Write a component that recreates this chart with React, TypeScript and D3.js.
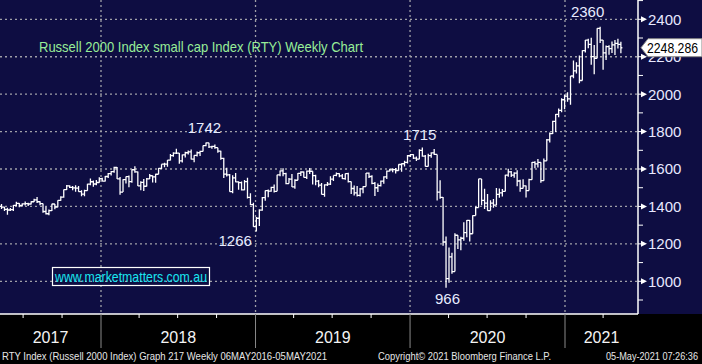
import React from "react";
import * as d3 from "d3";

const W = 702;
const H = 364;
const DAY = 86400000;

// weekly bars, week ending Fri 28 Apr 2017 onwards: [high, low, close]
const bars2017: [number, number, number][] = [
  [1421, 1395, 1400], [1413, 1387, 1396], [1399, 1376, 1384], [1393, 1356, 1381], [1392, 1376, 1383],
  [1408, 1376, 1406], [1425, 1403, 1416], [1418, 1396, 1406], [1417, 1400, 1414], [1426, 1405, 1415],
  [1420, 1402, 1413], [1428, 1410, 1425], [1441, 1424, 1435], [1451, 1418, 1425],
  [1428, 1406, 1415], [1416, 1366, 1373], [1398, 1357, 1361], [1384, 1353, 1378],
  [1414, 1376, 1413], [1412, 1385, 1397], [1433, 1396, 1432], [1454, 1430, 1450], [1491, 1446, 1490],
  [1515, 1488, 1510], [1513, 1498, 1502], [1509, 1487, 1499], [1513, 1479, 1498],
  [1509, 1478, 1479], [1487, 1455, 1466], [1489, 1455, 1485], [1521, 1484, 1519],
  [1549, 1513, 1532], [1538, 1505, 1520], [1541, 1513, 1528], [1556, 1526, 1548], [1553, 1533, 1535],
];

const bars2018: [number, number, number][] = [
  [1563, 1533, 1560], [1579, 1552, 1575], [1590, 1565, 1586], [1612, 1580, 1608],
  [1611, 1546, 1547], [1557, 1463, 1477], [1545, 1478, 1543], [1560, 1522, 1559],
  [1566, 1502, 1533], [1597, 1527, 1596], [1615, 1580, 1585], [1587, 1509, 1510], [1534, 1487, 1529],
  [1546, 1482, 1508], [1552, 1507, 1547], [1574, 1546, 1564], [1566, 1528, 1558],
  [1575, 1527, 1572], [1606, 1574, 1603], [1626, 1600, 1626], [1633, 1610, 1626],
  [1648, 1612, 1647], [1680, 1645, 1672], [1690, 1666, 1685], [1708, 1680, 1685], [1686, 1628, 1643],
  [1678, 1635, 1676], [1692, 1662, 1687], [1699, 1677, 1692], [1704, 1651, 1653],
  [1674, 1636, 1673], [1694, 1667, 1687], [1697, 1670, 1694], [1726, 1696, 1725], [1742, 1722, 1740],
  [1741, 1712, 1718], [1724, 1708, 1721], [1731, 1708, 1714], [1713, 1687, 1696],
  [1697, 1650, 1657], [1660, 1552, 1573], [1607, 1560, 1569], [1574, 1478, 1479],
  [1567, 1471, 1553], [1579, 1529, 1531], [1535, 1489, 1527], [1533, 1485, 1488], [1541, 1487, 1533],
  [1553, 1443, 1448], [1471, 1408, 1410], [1420, 1292, 1292], [1343, 1266, 1337],
];

const bars2019: [number, number, number][] = [
  [1385, 1295, 1380], [1450, 1377, 1447], [1485, 1430, 1484], [1490, 1449, 1482],
  [1505, 1478, 1502], [1517, 1474, 1481], [1570, 1482, 1569], [1592, 1562, 1590],
  [1604, 1562, 1575], [1580, 1518, 1522], [1552, 1523, 1546], [1574, 1504, 1505], [1545, 1494, 1540],
  [1579, 1540, 1577], [1588, 1563, 1584], [1587, 1554, 1555], [1592, 1547, 1589],
  [1606, 1573, 1588], [1588, 1517, 1565], [1570, 1513, 1535], [1541, 1502, 1514], [1525, 1464, 1465],
  [1518, 1452, 1515], [1531, 1509, 1519], [1561, 1514, 1546], [1566, 1536, 1566],
  [1582, 1562, 1575], [1577, 1556, 1563], [1573, 1547, 1549], [1576, 1542, 1575],
  [1580, 1528, 1533], [1529, 1466, 1496], [1512, 1458, 1472], [1509, 1453, 1459], [1498, 1453, 1494],
  [1508, 1471, 1506], [1579, 1506, 1578], [1581, 1552, 1560], [1567, 1518, 1523],
  [1531, 1456, 1500], [1522, 1477, 1511], [1538, 1506, 1535], [1561, 1521, 1558],
  [1592, 1547, 1589], [1601, 1587, 1595], [1604, 1583, 1597], [1606, 1576, 1592], [1626, 1591, 1624],
  [1631, 1586, 1628], [1644, 1614, 1636], [1675, 1630, 1671], [1680, 1664, 1677],
];

const bars2020: [number, number, number][] = [
  [1679, 1654, 1658], [1667, 1643, 1653], [1705, 1652, 1700], [1715, 1665, 1669], [1675, 1613, 1614],
  [1681, 1616, 1672], [1690, 1660, 1686], [1707, 1675, 1678], [1678, 1432, 1476],
  [1540, 1441, 1448], [1451, 1190, 1210], [1240, 966, 1014], [1181, 992, 1131],
  [1153, 1041, 1052], [1257, 1052, 1246], [1246, 1172, 1221], [1238, 1166, 1230],
  [1316, 1217, 1260], [1327, 1235, 1326], [1328, 1213, 1254], [1353, 1283, 1351], [1400, 1355, 1394],
  [1548, 1396, 1547], [1535, 1407, 1432], [1495, 1386, 1418], [1466, 1377, 1378],
  [1433, 1380, 1418], [1440, 1393, 1407], [1498, 1421, 1465], [1496, 1447, 1473], [1493, 1453, 1480],
  [1569, 1486, 1567], [1602, 1559, 1585], [1590, 1557, 1567], [1583, 1553, 1578],
  [1594, 1508, 1536], [1542, 1479, 1497], [1545, 1496, 1510], [1512, 1448, 1485],
  [1548, 1485, 1543], [1637, 1543, 1636], [1642, 1604, 1627], [1654, 1608, 1636], [1633, 1527, 1538],
  [1656, 1537, 1644], [1760, 1662, 1756], [1795, 1742, 1789], [1858, 1787, 1855],
  [1894, 1798, 1892], [1924, 1877, 1913], [1978, 1903, 1970], [1998, 1920, 1990], [2010, 1959, 1975],
];

const bars2021: [number, number, number][] = [
  [2097, 1944, 2097], [2180, 2085, 2124], [2171, 2110, 2151], [2206, 2058, 2073],
  [2235, 2077, 2233], [2290, 2223, 2289], [2296, 2245, 2266], [2302, 2157, 2201],
  [2263, 2106, 2192], [2352, 2195, 2352], [2360, 2273, 2289], [2290, 2130, 2221],
  [2260, 2183, 2254], [2262, 2210, 2243], [2282, 2220, 2263], [2289, 2209, 2271], [2296, 2244, 2266],
  [2280, 2218, 2248],
];

const yTicks = [1000, 1200, 1400, 1600, 1800, 2000, 2200, 2400];
const yMinor = [900, 1100, 1300, 1500, 1700, 1900, 2100, 2300, 2500];
const years = [2017, 2018, 2019, 2020, 2021];
const lastPrice = "2248.286";

const callouts = [
  { text: "2360", value: 2360, date: "2021-03-12" },
  { text: "1742", value: 1742, date: "2018-08-31" },
  { text: "1715", value: 1715, date: "2020-01-24" },
  { text: "1266", value: 1266, date: "2018-12-10" },
  { text: "966", value: 966, date: "2020-03-20" },
];

const title = "Russell 2000 Index small cap Index (RTY) Weekly Chart";
const watermark = "www.marketmatters.com.au";
const footLeft = "RTY Index (Russell 2000 Index) Graph 217  Weekly 06MAY2016-05MAY2021";
const footMid = "Copyright\u00a9 2021 Bloomberg Finance L.P.";
const footRight = "05-May-2021 07:26:36";

const NARROW = "'Liberation Sans Narrow', 'Arial Narrow', 'Liberation Sans', sans-serif";

export default function App() {
  const plotR = 638;
  const plotB = 314;

  const x = d3
    .scaleUtc()
    .domain([new Date(Date.UTC(2018, 0, 1)), new Date(Date.UTC(2021, 0, 1))])
    .range([101, 565]);
  const y = d3.scaleLinear().domain([1000, 2400]).range([281.3, 19.3]);

  const all = [...bars2017, ...bars2018, ...bars2019, ...bars2020, ...bars2021];
  const start = Date.UTC(2017, 3, 28);

  // OHLC bars: open tick left, close tick right
  let d = "";
  all.forEach(([hi, lo, cl], i) => {
    const op = i === 0 ? 1405 : all[i - 1][2];
    const cx = x(new Date(start + (7 * i + 6) * DAY));
    const top = y(Math.max(hi, op, cl));
    const bot = y(Math.min(lo, op, cl));
    d += `M${cx},${top}V${bot}M${cx - 1.5},${y(op)}H${cx}M${cx},${y(cl)}H${cx + 1.5}`;
  });

  const yearLines = years.slice(1).map((yr) => x(new Date(Date.UTC(yr, 0, 1))));
  const quarters = d3.utcMonth
    .every(3)!
    .range(new Date(Date.UTC(2017, 6, 1)), new Date(Date.UTC(2021, 6, 1)))
    .filter((q) => q.getUTCMonth() !== 0);

  const yearLabelX = (yr: number) => {
    const a = Math.max(0, x(new Date(Date.UTC(yr, 0, 1))));
    const b = Math.min(plotR, x(new Date(Date.UTC(yr + 1, 0, 1))));
    return (a + b) / 2;
  };

  const calloutOffset: Record<string, [number, number]> = {
    "2360": [-7, -15],
    "1742": [1, -15],
    "1715": [0, -13],
    "1266": [-11, 9],
    "966": [4, 11],
  };

  const yp = y(2248.286);

  return (
    <svg
      width={W}
      height={H}
      style={{ position: "absolute", left: 0, top: 0, display: "block" }}
    >
      <rect x={0} y={0} width={W} height={H} fill="#000" />
      <rect x={0} y={0} width={W} height={plotB} fill="#0e0d42" />

      {/* grid */}
      <g stroke="#a0a0a8" strokeWidth={1.3} strokeDasharray="2,3">
        {yTicks.map((t) => (
          <line key={t} x1={0} x2={plotR} y1={y(t)} y2={y(t)} />
        ))}
        {yearLines.map((gx) => (
          <line key={gx} x1={gx} x2={gx} y1={0} y2={plotB} />
        ))}
      </g>

      {/* bars */}
      <path d={d} stroke="#fff" strokeWidth={1.3} fill="none" />

      {/* frame */}
      <line x1={plotR} x2={plotR} y1={0} y2={plotB} stroke="#fff" strokeWidth={1.5} />
      <line x1={0} x2={plotR} y1={plotB} y2={plotB} stroke="#fff" strokeWidth={1.5} />

      {/* right axis */}
      {yMinor.map((t) => (
        <line key={t} x1={plotR} x2={plotR + 5} y1={y(t)} y2={y(t)} stroke="#fff" strokeWidth={1} />
      ))}
      {yTicks.map((t) => (
        <g key={t}>
          <line x1={plotR} x2={plotR + 4} y1={y(t)} y2={y(t)} stroke="#fff" strokeWidth={1} />
          <polygon
            points={`${plotR + 3},${y(t) - 3} ${plotR + 9},${y(t)} ${plotR + 3},${y(t) + 3}`}
            fill="#fff"
          />
          <text
            x={plotR + 10}
            y={y(t)}
            dy="0.36em"
            fill="#e8e8ff"
            fontSize={15}
            fontFamily={NARROW}
          >
            {t}
          </text>
        </g>
      ))}

      {/* last price tag */}
      <polygon
        points={`${plotR + 3},${yp} ${plotR + 10},${yp - 9} ${W},${yp - 9} ${W},${yp + 9} ${plotR + 10},${yp + 9}`}
        fill="#fff"
        stroke="#888"
        strokeWidth={1}
      />
      <text x={plotR + 9} y={yp} dy="0.36em" fill="#000" fontSize={15} fontFamily={NARROW} textLength={51} lengthAdjust="spacingAndGlyphs">
        {lastPrice}
      </text>

      {/* title */}
      <text x={39} y={47} dy="0.36em" fill="#98ee98" fontSize={15} fontFamily={NARROW} textLength={324} lengthAdjust="spacingAndGlyphs">
        {title}
      </text>

      {/* callouts */}
      {callouts.map((c) => {
        const [dx, dy] = calloutOffset[c.text];
        return (
          <text
            key={c.text}
            x={x(new Date(c.date)) + dx}
            y={y(c.value) + dy}
            dy="0.36em"
            textAnchor="middle"
            fill="#e8ecff"
            fontSize={15}
            fontFamily={NARROW}
          >
            {c.text}
          </text>
        );
      })}

      {/* watermark */}
      <rect x={52.5} y={267.5} width={157} height={18} fill="none" stroke="#fff" strokeWidth={1.2} />
      <text x={55} y={276.5} dy="0.36em" fill="#19e6f0" fontSize={15} fontFamily={NARROW} textLength={152} lengthAdjust="spacingAndGlyphs">
        {watermark}
      </text>

      {/* time axis */}
      {quarters.map((q) => (
        <line key={q.getTime()} x1={x(q)} x2={x(q)} y1={plotB} y2={plotB + 4} stroke="#fff" strokeWidth={1} />
      ))}
      {yearLines.map((gx) => (
        <line key={gx} x1={gx} x2={gx} y1={plotB} y2={348} stroke="#8a8a8a" strokeWidth={1} />
      ))}
      {years.map((yr) => (
        <text
          key={yr}
          x={yearLabelX(yr)}
          y={337}
          dy="0.36em"
          textAnchor="middle"
          fill="#f4f4f4"
          fontSize={16}
          fontFamily={NARROW}
        >
          {yr}
        </text>
      ))}

      {/* footer */}
      <g fill="#e6e6e6" fontSize={11.5} fontFamily={NARROW}>
        <text x={2} y={356} dy="0.36em" textLength={325} lengthAdjust="spacingAndGlyphs">
          {footLeft}
        </text>
        <text x={378} y={356} dy="0.36em" textLength={173} lengthAdjust="spacingAndGlyphs">
          {footMid}
        </text>
        <text x={606} y={356} dy="0.36em" textLength={92} lengthAdjust="spacingAndGlyphs">
          {footRight}
        </text>
      </g>
    </svg>
  );
}
